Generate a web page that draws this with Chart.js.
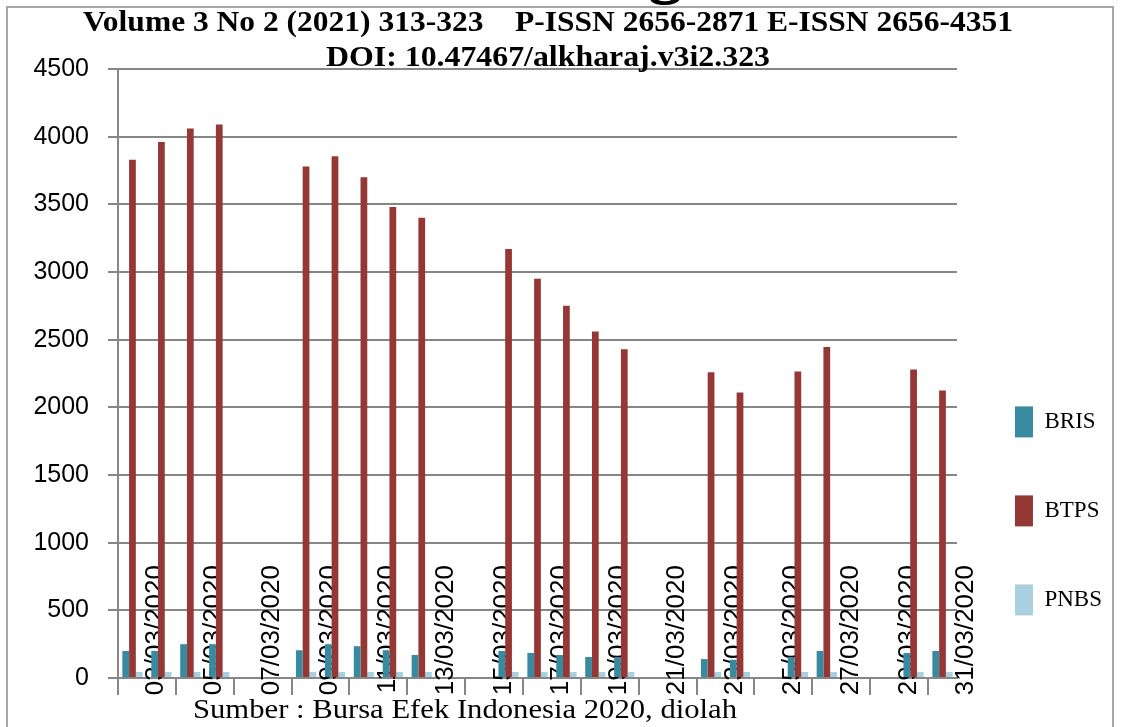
<!DOCTYPE html>
<html lang="id">
<head>
<meta charset="UTF-8">
<title>BRIS BTPS PNBS Maret 2020</title>
<script src="https://cdn.jsdelivr.net/npm/chart.js@4"></script>
<style>
  body { margin:0; width:1121px; height:727px; overflow:hidden; background:#fff; position:relative; }
  .frame { position:absolute; left:6px; top:6px; width:1108px; height:800px; border:2px solid #a6a6a6; box-sizing:border-box; }
  #chart { position:absolute; left:0; top:0; }
  .txt { position:absolute; white-space:pre; color:#000; font-family:'Liberation Serif', serif; line-height:1; transform-origin:left top; }
  .head { font-weight:bold; font-size:29px; }
  .g { font-weight:bold; font-size:70px; left:648px; top:-68px; }
</style>
</head>
<body>
<div class="frame"></div>
<canvas id="chart" width="1121" height="727"></canvas>
<div class="txt g">g</div>
<div class="txt head" data-w="930" style="left:83px; top:7px;">Volume 3 No 2 (2021) 313-323    P-ISSN 2656-2871 E-ISSN 2656-4351</div>
<div class="txt head" data-w="444" style="left:326px; top:42px;">DOI: 10.47467/alkharaj.v3i2.323</div>
<div class="txt" data-w="544" style="left:193px; top:695px; font-size:28px;">Sumber : Bursa Efek Indonesia 2020, diolah</div>

<script>
// tanggal 03/03/2020 - 31/03/2020 (hari libur = null)
const dates = ['03/03/2020','04/03/2020','05/03/2020','06/03/2020','07/03/2020','08/03/2020','09/03/2020',
  '10/03/2020','11/03/2020','12/03/2020','13/03/2020','14/03/2020','15/03/2020','16/03/2020',
  '17/03/2020','18/03/2020','19/03/2020','20/03/2020','21/03/2020','22/03/2020','23/03/2020',
  '24/03/2020','25/03/2020','26/03/2020','27/03/2020','28/03/2020','29/03/2020','30/03/2020','31/03/2020'];

const bris = [200,200,250,250,null,null,205,250,235,205,170,null,null,200,185,170,155,155,null,null,140,135,null,155,200,null,null,185,200];
const btps = [3830,3960,4060,4090,null,null,3780,3855,3700,3480,3400,null,null,3170,2950,2750,2560,2430,null,null,2260,2110,null,2265,2445,null,null,2280,2125];
const pnbs = [45,45,45,45,null,null,45,45,45,45,45,null,null,45,45,45,45,45,null,null,45,45,null,45,45,null,null,45,45];

const yTicks = [0,500,1000,1500,2000,2500,3000,3500,4000,4500];

// teks judul dilebarkan sesuai lebar aslinya
document.querySelectorAll('[data-w]').forEach(el => {
  const w = el.getBoundingClientRect().width;
  el.style.transform = 'scaleX(' + (el.dataset.w / w) + ')';
});

const gray = '#868686';
Chart.defaults.font.family = "'Liberation Sans', Arial, sans-serif";

new Chart(document.getElementById('chart'), {
  type: 'bar',
  data: {
    labels: dates,
    datasets: [
      { label: 'BRIS', data: bris, backgroundColor: '#378a9f' },
      { label: 'BTPS', data: btps, backgroundColor: '#953735' },
      { label: 'PNBS', data: pnbs, backgroundColor: '#a8d0de' }
    ]
  },
  options: {
    responsive: false,
    animation: false,
    layout: { padding: { top: 69, right: 9, bottom: 32, left: 0 } },
    datasets: { bar: { categoryPercentage: 0.7, barPercentage: 1 } },
    plugins: {
      tooltip: { enabled: false },
      legend: {
        position: 'right',
        align: 'start',
        title: { display: true, text: ' ', padding: { top: 265, bottom: 0 } },
        labels: {
          boxWidth: 18, boxHeight: 31, padding: 58, color: '#000',
          font: { family: "'Liberation Serif', serif", size: 23 }
        }
      }
    },
    scales: {
      x: {
        z: 1, // label tanggal di atas batang
        grid: {
          offset: true, drawOnChartArea: false, tickLength: 17, lineWidth: 2,
          color: c => (c.index % 2 === 0 ? gray : 'rgba(0,0,0,0)')
        },
        border: { color: gray, width: 2 },
        ticks: {
          autoSkip: false, minRotation: 90, maxRotation: 90,
          mirror: true, padding: 113, labelOffset: 55,
          color: '#000', font: { size: 26 },
          callback(v, i) { return i % 2 === 0 ? this.getLabelForValue(v) : ''; }
        },
        afterFit(s) { s.height = 17; }
      },
      y: {
        min: yTicks[0], max: yTicks[yTicks.length - 1],
        afterBuildTicks(s) { s.ticks = yTicks.map(v => ({ value: v })); },
        grid: { color: gray, lineWidth: 2, tickLength: 10 },
        border: { color: gray, width: 2 },
        ticks: { padding: 19, color: '#000', font: { size: 25 }, callback: v => String(v) },
        afterFit(s) { s.width = 118; }
      }
    }
  }
});
</script>
</body>
</html>
